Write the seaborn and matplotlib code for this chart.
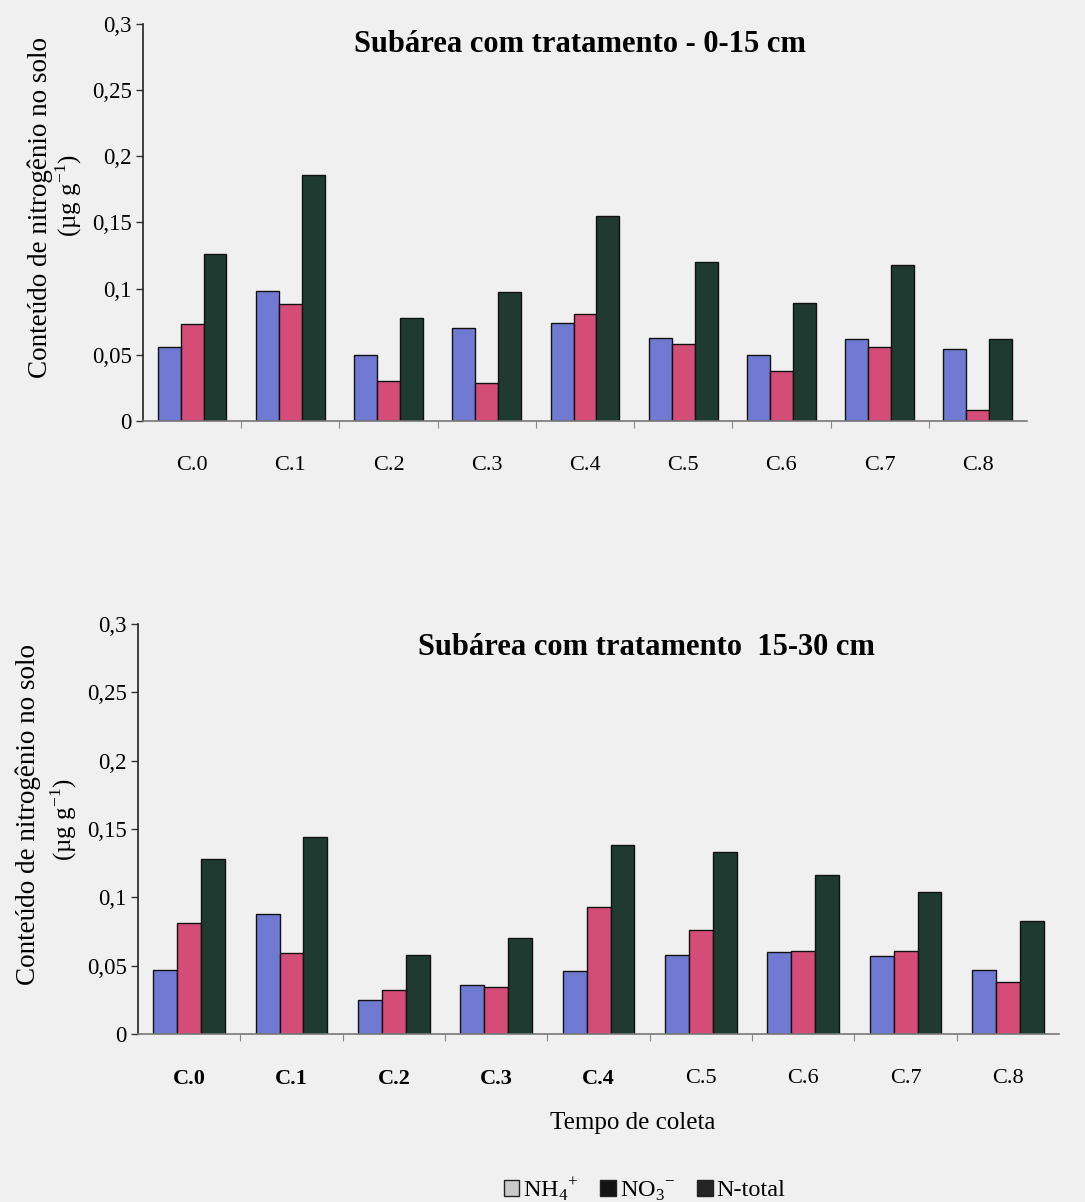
import matplotlib
matplotlib.use("Agg")
import matplotlib.pyplot as plt
from matplotlib.patches import Patch
import seaborn as sns
import pandas as pd

# Soil nitrogen content per sampling time (µg g-1)
coletas = ["C.0", "C.1", "C.2", "C.3", "C.4", "C.5", "C.6", "C.7", "C.8"]
series = ["NH4", "NO3", "N-total"]

nh4_0_15 = [0.056, 0.098, 0.050, 0.070, 0.074, 0.063, 0.050, 0.062, 0.054]
no3_0_15 = [0.073, 0.088, 0.030, 0.029, 0.081, 0.058, 0.038, 0.056, 0.008]
nt_0_15 = [0.126, 0.186, 0.078, 0.097, 0.155, 0.120, 0.089, 0.118, 0.062]

nh4_15_30 = [0.047, 0.088, 0.025, 0.036, 0.046, 0.058, 0.060, 0.057, 0.047]
no3_15_30 = [0.081, 0.059, 0.032, 0.034, 0.093, 0.076, 0.061, 0.061, 0.038]
nt_15_30 = [0.128, 0.144, 0.058, 0.070, 0.138, 0.133, 0.116, 0.104, 0.083]

yticks = [0, 0.05, 0.1, 0.15, 0.2, 0.25, 0.3]
ytick_labels = ["0", "0,05", "0,1", "0,15", "0,2", "0,25", "0,3"]

title_top = "Subárea com tratamento - 0-15 cm"
title_bottom = "Subárea com tratamento  15-30 cm"
ylabel_1 = "Conteúdo de nitrogênio no solo"
ylabel_2 = r"(µg g$^{\mathregular{-1}}$)"
xlabel = "Tempo de coleta"
legend_labels = [r"NH$_{\mathregular{4}}$$^{\mathregular{+}}$",
                 r"NO$_{\mathregular{3}}$$^{\mathregular{-}}$", "N-total"]

bar_colors = ["#717ad2", "#d44c78", "#1f3b31"]
legend_colors = ["#c9c9c9", "#141414", "#242424"]
bg = "#f0f0f0"

sns.set_theme(style="white")
plt.rcParams["font.family"] = ["Liberation Serif", "DejaVu Serif"]
plt.rcParams["mathtext.fontset"] = "custom"
plt.rcParams["mathtext.rm"] = "Liberation Serif"
for key in ["text.color", "axes.labelcolor", "xtick.color", "ytick.color"]:
    plt.rcParams[key] = "black"


def to_long(nh4, no3, nt):
    rows = []
    for vals, s in zip([nh4, no3, nt], series):
        for c, v in zip(coletas, vals):
            rows.append({"coleta": c, "serie": s, "valor": v})
    return pd.DataFrame(rows)


fig = plt.figure(figsize=(10.85, 12.02), dpi=100, facecolor=bg)
ax1 = fig.add_axes([0.1318, 0.6498, 0.8147, 0.3305])
ax2 = fig.add_axes([0.1272, 0.1398, 0.8490, 0.3411])

panels = [
    (ax1, to_long(nh4_0_15, no3_0_15, nt_0_15), [False] * 9),
    (ax2, to_long(nh4_15_30, no3_15_30, nt_15_30), [True] * 5 + [False] * 4),
]

for ax, df, bold in panels:
    ax.set_facecolor(bg)
    sns.barplot(data=df, x="coleta", y="valor", hue="serie", order=coletas,
                hue_order=series, palette=bar_colors, width=0.7, gap=0,
                edgecolor="#111111", linewidth=1.0, saturation=1,
                legend=False, ax=ax)
    ax.set_xlim(-0.5, len(coletas) - 0.5)
    ax.set_ylim(0, 0.3)
    ax.set_yticks(yticks)
    ax.set_yticklabels(ytick_labels, fontsize=16.5)
    ax.set_xticks(range(len(coletas)))
    ax.set_xticklabels(coletas, fontsize=16)
    for lbl, b in zip(ax.get_xticklabels(), bold):
        if b:
            lbl.set_fontweight("bold")
    ax.tick_params(axis="x", length=0, pad=25)
    ax.tick_params(axis="y", direction="out", length=5, width=1,
                   color="#333333", pad=3, left=True)
    ax.set_xticks([k + 0.5 for k in range(len(coletas) - 1)], minor=True)
    ax.tick_params(axis="x", which="minor", direction="out", length=5,
                   width=0.8, color="#888888", bottom=True)
    ax.set_xlabel("")
    ax.set_ylabel("")
    for side in ["top", "right"]:
        ax.spines[side].set_visible(False)
    ax.spines["left"].set_color("#222222")
    ax.spines["left"].set_linewidth(1.2)
    ax.spines["bottom"].set_color("#777777")
    ax.spines["bottom"].set_linewidth(1.2)

fig.text(0.5346, 0.9626, title_top, ha="center", va="center",
         fontsize=22, fontweight="bold")
fig.text(0.5955, 0.4609, title_bottom, ha="center", va="center",
         fontsize=22, fontweight="bold")

fig.text(0.037, 0.827, ylabel_1, rotation=90, ha="center", va="center",
         fontsize=19.5)
fig.text(0.063, 0.837, ylabel_2, rotation=90, ha="center", va="center",
         fontsize=18)
fig.text(0.026, 0.322, ylabel_1, rotation=90, ha="center", va="center",
         fontsize=19.5)
fig.text(0.059, 0.318, ylabel_2, rotation=90, ha="center", va="center",
         fontsize=18)

fig.text(0.583, 0.0657, xlabel, ha="center", va="center", fontsize=18)

handles = [Patch(facecolor=c, edgecolor="#222222", linewidth=1.0)
           for c in legend_colors]
fig.legend(handles, legend_labels, loc="center", bbox_to_anchor=(0.594, 0.011),
           ncol=3, frameon=False, fontsize=17.5, handlelength=0.65,
           handleheight=0.65, handletextpad=0.15, columnspacing=0.9)

fig.savefig("out.png", dpi=100, facecolor=bg)
